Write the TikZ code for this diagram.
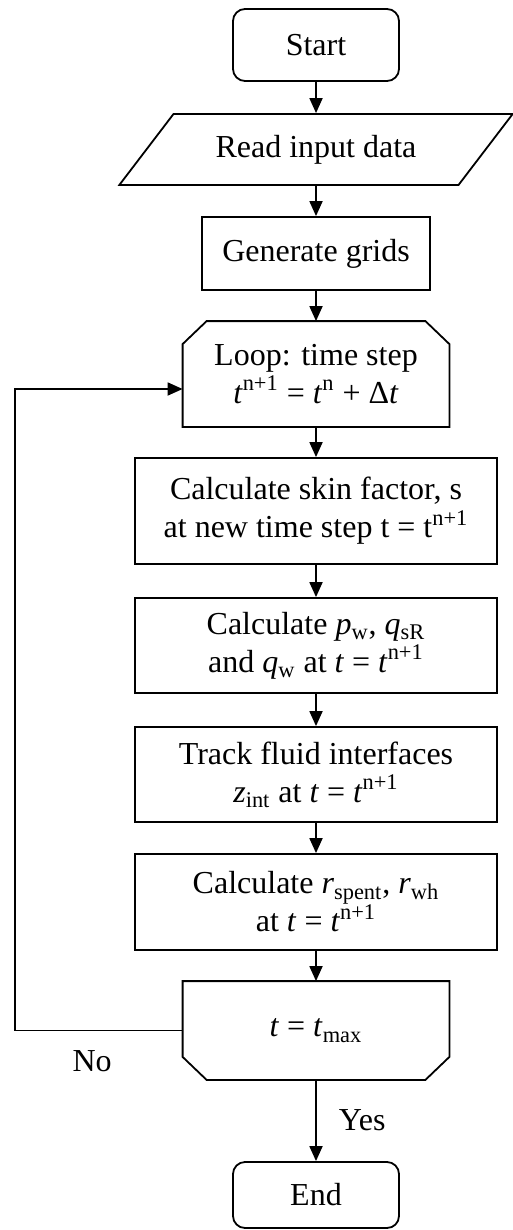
\documentclass[tikz,border=0pt]{standalone}
\usepackage{fontspec}
\setmainfont{Liberation Serif}
\usetikzlibrary{shapes.geometric, arrows.meta, positioning}

\tikzset{
  base/.style = {draw, line width=0.9pt, align=center, inner sep=2pt, font=\fontsize{16}{19}\selectfont},
  term/.style = {base, rounded corners=6pt, minimum width=83pt, minimum height=36pt},
  io/.style = {base, trapezium, trapezium left angle=43, trapezium right angle=137, trapezium stretches=true, minimum width=197pt, minimum height=35.5pt},
  proc/.style = {base, rectangle, minimum width=181pt},
  limit/.style = {base, draw=none, minimum width=132.5pt},
  outline/.style = {line width=0.9pt, line join=miter},
  lbl/.style = {font=\fontsize{16}{19}\selectfont, inner sep=0pt},
  line/.style = {-{Triangle[length=7.5pt, width=6.5pt]}, line width=0.9pt}
}

\begin{document}
\begin{tikzpicture}[node distance = 60pt, on grid, auto]
    \useasboundingbox (0,0) rectangle (256.5pt,-615pt);

        \node (start) [term] at (158pt,-22.5pt) {Start};
        \node (read) [io, below = 52.25pt of start] {Read input data};
        \node (grid) [proc, below = 52pt of read, minimum width=114pt, minimum height=36.5pt] {Generate grids};
        \node (loop) [limit, below = 60.25pt of grid, minimum height=52pt] {Loop: time step\\ \textit{t}\textsuperscript{n+1} = \textit{t}\textsuperscript{n} + Δ\textit{t}};
        \node (skin) [proc, below = 68.5pt of loop, minimum height=53pt] {Calculate skin factor, s\\ at new time step t = t\textsuperscript{n+1}};
        \node (calc) [proc, below = 67.25pt of skin, minimum height=47.5pt] {Calculate \textit{p}\textsubscript{w}, \textit{q}\textsubscript{sR}\\ and \textit{q}\textsubscript{w} at \textit{t} = \textit{t}\textsuperscript{n+1}};
        \node (track) [proc, below = 64.5pt of calc, minimum height=47.5pt] {Track fluid interfaces\\ \textit{z}\textsubscript{int} at \textit{t} = \textit{t}\textsuperscript{n+1}};
        \node (rad) [proc, below = 63.75pt of track, minimum height=48pt] {Calculate \textit{r}\textsubscript{spent}, \textit{r}\textsubscript{wh}\\ at \textit{t} = \textit{t}\textsuperscript{n+1}};
        \node (dec) [limit, below = 64.25pt of rad, minimum height=48.5pt] {\textit{t} = \textit{t}\textsubscript{max}};
        \node (end) [term, below = 82.25pt of dec, minimum height=33pt] {End};
        \coordinate (back) at (7.5pt,0);

        % loop limits: cut corners
        \draw [outline] ([xshift=12pt]loop.north west) -- ([xshift=-12pt]loop.north east)
            -- ([yshift=-11.5pt]loop.north east) -- (loop.south east) -- (loop.south west)
            -- ([yshift=-11.5pt]loop.north west) -- cycle;
        \draw [outline] (dec.north west) -- (dec.north east) -- ([yshift=11.5pt]dec.south east)
            -- ([xshift=-12pt]dec.south east) -- ([xshift=12pt]dec.south west)
            -- ([yshift=11.5pt]dec.south west) -- cycle;

        \path [line]
            (start) edge (read)
            (read) edge (grid)
            (grid) edge (loop)
            (loop) edge (skin)
            (skin) edge (calc)
            (calc) edge (track)
            (track) edge (rad)
            (rad) edge (dec)
            (dec) edge node [lbl, right = 11pt] {Yes} (end);

        \draw [line] (dec.west) -- node [lbl, below, pos=0.54, yshift=-9.5pt] {No} (dec.west -| back) |- ([yshift=-7.5pt]loop.west);

\end{tikzpicture}
\end{document}
